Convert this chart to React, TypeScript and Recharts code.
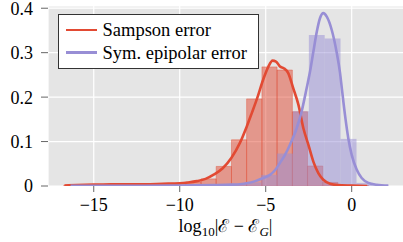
import React from "react";
import { ComposedChart, XAxis, YAxis, CartesianGrid, Line, ReferenceArea } from "recharts";

const FONT = "'Liberation Serif', 'DejaVu Serif', serif";

const RED = "#E24A33";
const PURPLE = "#988ED5";

const xTicks = [-15, -10, -5, 0];
const yTicks = [0, 0.1, 0.2, 0.3, 0.4];

// Histogram (density) of Sampson error
const sampsonEdges = [-16.74, -15.85, -14.97, -14.08, -13.19, -12.31, -11.42, -10.53, -9.65, -8.76, -7.88, -6.99, -6.11, -5.22, -4.34, -3.45, -2.57, -1.68, -0.8, 0.09, 0.98];
const sampsonDensity = [0.002, 0.002, 0.003, 0.003, 0.003, 0.004, 0.004, 0.006, 0.009, 0.016, 0.044, 0.104, 0.196, 0.268, 0.261, 0.167, 0.045, 0.008, 0.002, 0.001];

// Histogram (density) of symmetric epipolar error
const symEdges = [-16.35, -15.43, -14.5, -13.58, -12.66, -11.73, -10.81, -9.88, -8.96, -8.03, -7.11, -6.19, -5.26, -4.34, -3.42, -2.49, -1.57, -0.65, 0.28, 1.2, 2.13];
const symDensity = [0.0005, 0.0005, 0.0005, 0.0005, 0.0005, 0.0005, 0.001, 0.001, 0.001, 0.002, 0.003, 0.008, 0.025, 0.073, 0.168, 0.34, 0.332, 0.106, 0.007, 0.002];

// KDE curves
const sampsonKdeX = [-16.7, -16.0, -15.0, -14.0, -13.0, -12.0, -11.0, -10.0, -9.5, -9.0, -8.5, -8.0, -7.5, -7.0, -6.5, -6.1, -5.8, -5.5, -5.15, -4.85, -4.6, -4.4, -4.17, -3.95, -3.69, -3.4, -3.1, -2.81, -2.52, -2.23, -1.94, -1.65, -1.26, -0.8, 0.0, 0.9];
const sampsonKdeY = [0.001, 0.002, 0.003, 0.004, 0.004, 0.004, 0.005, 0.006, 0.008, 0.011, 0.016, 0.026, 0.04, 0.063, 0.097, 0.134, 0.165, 0.197, 0.239, 0.268, 0.282, 0.28, 0.269, 0.265, 0.254, 0.22, 0.183, 0.13, 0.093, 0.055, 0.029, 0.014, 0.005, 0.002, 0.001, 0.0];

const symKdeX = [-16.35, -14.0, -12.0, -10.0, -8.0, -7.0, -6.5, -6.1, -5.6, -5.14, -4.75, -4.45, -4.17, -3.88, -3.59, -3.2, -2.91, -2.62, -2.42, -2.23, -2.03, -1.84, -1.65, -1.45, -1.16, -0.87, -0.68, -0.58, -0.39, -0.2, 0.0, 0.29, 0.58, 0.97, 1.45, 2.13];
const symKdeY = [0.0005, 0.0005, 0.0005, 0.001, 0.002, 0.003, 0.004, 0.006, 0.011, 0.018, 0.025, 0.036, 0.052, 0.07, 0.093, 0.13, 0.168, 0.22, 0.258, 0.302, 0.347, 0.378, 0.389, 0.381, 0.351, 0.3, 0.255, 0.222, 0.16, 0.108, 0.07, 0.037, 0.018, 0.007, 0.003, 0.001];

const legendLabels = ["Sampson error", "Sym. epipolar error"];

const fmtX = (v: number) => (v < 0 ? "\u2212" + Math.abs(v) : String(v));
const fmtY = (v: number) => (v === 0 ? "0" : v.toFixed(1));

export default function App() {
  const redLine = sampsonKdeX.map((x, i) => ({ x, y: sampsonKdeY[i] }));
  const purpleLine = symKdeX.map((x, i) => ({ x, y: symKdeY[i] }));
  const tickStyle = { fill: "#000", fontSize: 18, fontFamily: FONT };
  return (
    <div style={{ position: "absolute", left: 0, top: 0, width: 403, height: 242, overflow: "hidden", background: "#fff", fontFamily: FONT }}>
      <ComposedChart width={405} height={242} margin={{ top: 6, right: 0, bottom: 0, left: 0 }}>
        <CartesianGrid fill="#E5E5E5" stroke="#FFFFFF" strokeWidth={1.2} />
        <XAxis
          type="number"
          dataKey="x"
          domain={[-17.66, 3.1]}
          ticks={xTicks}
          interval={0}
          allowDataOverflow
          axisLine={false}
          tickSize={6}
          tickMargin={6}
          tickLine={{ stroke: "#666" }}
          height={56}
          tick={tickStyle}
          tickFormatter={fmtX}
        />
        <YAxis
          type="number"
          domain={[0, 0.405]}
          ticks={yTicks}
          interval={0}
          allowDataOverflow
          axisLine={false}
          width={48}
          tickSize={7}
          tickMargin={8}
          tickLine={{ stroke: "#666" }}
          tick={tickStyle}
          tickFormatter={fmtY}
        />
        {sampsonDensity.map((v, i) => (
          <ReferenceArea
            key={"s" + i}
            x1={sampsonEdges[i]}
            x2={sampsonEdges[i + 1]}
            y1={0}
            y2={v}
            fill={RED}
            fillOpacity={0.5}
            stroke={RED}
            strokeOpacity={0.4}
            strokeWidth={1}
            ifOverflow="hidden"
          />
        ))}
        {symDensity.map((v, i) => (
          <ReferenceArea
            key={"p" + i}
            x1={symEdges[i]}
            x2={symEdges[i + 1]}
            y1={0}
            y2={v}
            fill={PURPLE}
            fillOpacity={0.5}
            stroke="none"
            ifOverflow="hidden"
          />
        ))}
        <Line data={redLine} dataKey="y" type="monotone" stroke={RED} strokeWidth={2.6} dot={false} isAnimationActive={false} />
        <Line data={purpleLine} dataKey="y" type="monotone" stroke={PURPLE} strokeWidth={2.6} dot={false} isAnimationActive={false} />
      </ComposedChart>
      <div
        style={{
          position: "absolute",
          left: 58,
          top: 14,
          width: 199,
          height: 53,
          border: "1px solid #333",
          background: "#fff",
          boxSizing: "content-box",
        }}
      >
        {legendLabels.map((lab, i) => (
          <div key={lab} style={{ position: "absolute", left: 7, top: 15 + i * 22.7 - 11, height: 22, display: "flex", alignItems: "center", whiteSpace: "nowrap" }}>
            <div style={{ width: 31, height: 2.6, background: i === 0 ? RED : PURPLE }} />
            <span style={{ marginLeft: 5.5, fontSize: 18.5, lineHeight: "22px", color: "#000" }}>{lab}</span>
          </div>
        ))}
      </div>
      <div style={{ position: "absolute", left: 0, width: 451, top: 217, height: 18, textAlign: "center", fontSize: 18, lineHeight: "18px", color: "#000", whiteSpace: "nowrap" }}>
        log<sub style={{ fontSize: 13, lineHeight: "0px", verticalAlign: "-4px" }}>10</sub>|ℰ − ℰ<sub style={{ fontSize: 13, lineHeight: "0px", verticalAlign: "-4px" }}><i>G</i></sub>|
      </div>
    </div>
  );
}
